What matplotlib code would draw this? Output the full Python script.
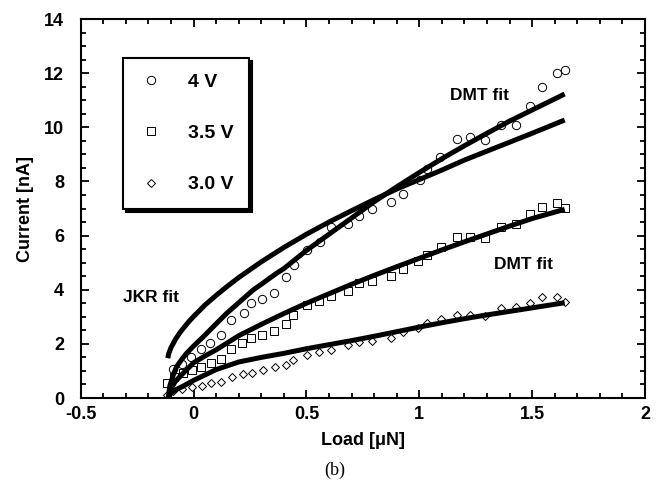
import matplotlib
matplotlib.use("Agg")
import matplotlib.pyplot as plt
from matplotlib.ticker import MultipleLocator

plt.rcParams['font.family'] = ['Liberation Sans', 'DejaVu Sans']
plt.rcParams['font.weight'] = 'bold'

# measured points, 4 V (circles)
load_4v = [-0.09, -0.05, -0.012, 0.031, 0.073, 0.120, 0.166, 0.223, 0.253, 0.303,
           0.356, 0.409, 0.443, 0.503, 0.558, 0.610, 0.682, 0.734, 0.790, 0.874,
           0.926, 1.002, 1.033, 1.093, 1.165, 1.224, 1.293, 1.361, 1.430, 1.489,
           1.545, 1.609, 1.644]
cur_4v = [1.06, 1.25, 1.50, 1.80, 2.05, 2.32, 2.89, 3.14, 3.51, 3.66,
          3.89, 4.46, 4.93, 5.45, 5.75, 6.33, 6.44, 6.71, 6.97, 7.25,
          7.54, 8.07, 8.45, 8.92, 9.57, 9.63, 9.53, 10.08, 10.07, 10.79,
          11.50, 11.99, 12.12]

# 3.5 V (squares)
load_35v = [-0.118, -0.085, -0.045, -0.005, 0.034, 0.078, 0.122, 0.166, 0.215, 0.256,
            0.303, 0.355, 0.408, 0.442, 0.503, 0.556, 0.611, 0.683, 0.734, 0.790,
            0.873, 0.928, 0.995, 1.035, 1.095, 1.165, 1.224, 1.293, 1.361, 1.430,
            1.489, 1.545, 1.609, 1.644]
cur_35v = [0.54, 0.78, 0.93, 1.02, 1.14, 1.31, 1.44, 1.81, 2.03, 2.22,
           2.32, 2.49, 2.74, 3.06, 3.44, 3.58, 3.77, 3.95, 4.25, 4.31,
           4.50, 4.77, 5.05, 5.28, 5.59, 5.96, 5.96, 5.90, 6.33, 6.43,
           6.79, 7.04, 7.19, 7.03]

# 3.0 V (diamonds)
load_3v = [-0.118, -0.09, -0.05, -0.005, 0.036, 0.076, 0.120, 0.169, 0.220, 0.257,
           0.306, 0.360, 0.408, 0.441, 0.503, 0.556, 0.611, 0.685, 0.734, 0.790,
           0.873, 0.926, 0.995, 1.035, 1.095, 1.165, 1.224, 1.293, 1.361, 1.430,
           1.489, 1.545, 1.609, 1.644]
cur_3v = [0.12, 0.25, 0.33, 0.40, 0.44, 0.54, 0.60, 0.76, 0.89, 0.93,
          1.03, 1.13, 1.22, 1.39, 1.59, 1.71, 1.77, 1.94, 2.08, 2.10,
          2.22, 2.42, 2.57, 2.78, 2.91, 3.07, 3.07, 3.03, 3.31, 3.37,
          3.50, 3.74, 3.72, 3.56]

# fit curves
jkr_x = [-0.114, -0.11, -0.10, -0.08, -0.06, -0.04, -0.02, 0.0, 0.05, 0.1, 0.15,
         0.2, 0.3, 0.4, 0.5, 0.6, 0.7, 0.8, 0.9, 1.0, 1.1, 1.2, 1.3, 1.4, 1.5, 1.644]
jkr_y = [1.47, 1.64, 1.86, 2.17, 2.42, 2.63, 2.83, 3.01, 3.43, 3.79, 4.13,
         4.45, 5.03, 5.56, 6.05, 6.5, 6.92, 7.33, 7.72, 8.07, 8.42, 8.79, 9.12, 9.45, 9.78, 10.27]

dmt4_x = [-0.112, -0.105, -0.09, -0.075, -0.05, -0.031, 0.0, 0.043, 0.1, 0.147, 0.2,
          0.264, 0.3, 0.368, 0.4, 0.5, 0.6, 0.7, 0.8, 0.9, 1.0, 1.1, 1.2, 1.3, 1.4,
          1.5, 1.644]
dmt4_y = [0.0, 0.45, 0.85, 1.16, 1.45, 1.65, 1.92, 2.26, 2.74, 3.13, 3.52,
          3.99, 4.2, 4.61, 4.78, 5.45, 6.05, 6.65, 7.25, 7.80, 8.33, 8.84, 9.32, 9.78, 10.23,
          10.64, 11.23]

dmt35_x = [-0.112, -0.1, -0.08, -0.05, 0.0, 0.05, 0.1, 0.2, 0.3, 0.4, 0.5, 0.6, 0.7,
           0.8, 0.9, 1.0, 1.1, 1.2, 1.3, 1.4, 1.5, 1.644]
dmt35_y = [0.0, 0.35, 0.62, 0.88, 1.3, 1.55, 1.78, 2.3, 2.72, 3.12, 3.5, 3.85, 4.2,
           4.53, 4.85, 5.16, 5.47, 5.77, 6.06, 6.35, 6.63, 6.97]

dmt3_x = [-0.112, -0.1, -0.08, -0.05, 0.0, 0.1, 0.2, 0.3, 0.4, 0.5, 0.6, 0.7, 0.8,
          0.9, 1.0, 1.1, 1.2, 1.3, 1.4, 1.5, 1.644]
dmt3_y = [0.0, 0.18, 0.3, 0.42, 0.65, 1.05, 1.33, 1.5, 1.65, 1.82, 1.97, 2.12, 2.28,
          2.45, 2.62, 2.78, 2.93, 3.07, 3.2, 3.33, 3.52]

xticks = [-0.5, 0, 0.5, 1, 1.5, 2]
xtick_labels = ['-0.5', '0', '0.5', '1', '1.5', '2']
yticks = [0, 2, 4, 6, 8, 10, 12, 14]

fig = plt.figure(figsize=(6.57, 4.98), dpi=100)
ax = fig.add_axes([0.1228, 0.2008, 0.859, 0.761])

lw = 3.6
for fx, fy in [(jkr_x, jkr_y), (dmt4_x, dmt4_y), (dmt35_x, dmt35_y), (dmt3_x, dmt3_y)]:
    ax.plot(fx, fy, color='black', linewidth=lw, solid_capstyle='butt',
            solid_joinstyle='round', zorder=3)

mk = dict(linestyle='none', markerfacecolor='none', markeredgecolor='black',
          markeredgewidth=0.7, zorder=2)
ax.plot(load_4v, cur_4v, marker='o', markersize=6, label='4 V', **mk)
ax.plot(load_35v, cur_35v, marker='s', markersize=5.5, label='3.5 V', **mk)
ax.plot(load_3v, cur_3v, marker='D', markersize=4.5, label='3.0 V', **mk)

ax.set_xlim(-0.5, 2)
ax.set_ylim(0, 14)
ax.set_xticks(xticks)
ax.set_xticklabels(xtick_labels)
ax.set_yticks(yticks)
ax.xaxis.set_minor_locator(MultipleLocator(0.1))
ax.yaxis.set_minor_locator(MultipleLocator(0.5))
ax.tick_params(which='both', direction='in', top=True, right=True, labelsize=13, width=1.3)
ax.tick_params(which='major', length=6)
ax.tick_params(which='minor', length=3.5)
ax.tick_params(axis='x', which='major', pad=6)
ax.tick_params(axis='y', which='major', pad=12)
for s in ax.spines.values():
    s.set_linewidth(1.5)

ax.set_xlabel('Load [μN]', fontsize=13, fontweight='bold', labelpad=6)
ax.set_ylabel('Current [nA]', fontsize=13, fontweight='bold', labelpad=7)

ax.text(1.135, 11.19, 'DMT fit', fontsize=12.5, fontweight='bold', va='center')
ax.text(1.33, 4.93, 'DMT fit', fontsize=12.5, fontweight='bold', va='center')
ax.text(-0.313, 3.73, 'JKR fit', fontsize=12.5, fontweight='bold', va='center')

leg = ax.legend(loc='upper left', bbox_to_anchor=(0.075, 0.897), fontsize=14,
                frameon=True, fancybox=False, edgecolor='black',
                shadow={'color': 'black', 'alpha': 1}, borderpad=0.8,
                labelspacing=1.72, handletextpad=1.25, handlelength=1.3,
                borderaxespad=0)
leg.get_frame().set_linewidth(1.5)

fig.text(0.51, 0.056, '(b)', fontsize=13, fontweight='normal',
         family='Liberation Serif', ha='center', va='center')

fig.savefig('out.png', dpi=100)
